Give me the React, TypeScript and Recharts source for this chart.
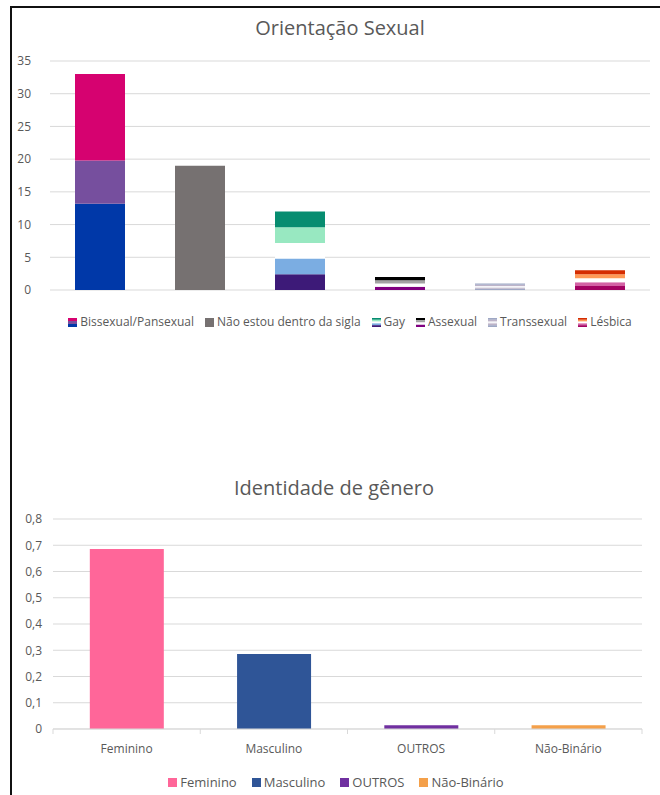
import React from 'react';
import { BarChart, Bar, XAxis, YAxis, CartesianGrid, Cell, Legend } from 'recharts';

// --- Orientação Sexual: stacked flag stripes, bottom stripe first ---
const orientCategories = ['Bissexual/Pansexual', 'Não estou dentro da sigla', 'Gay', 'Assexual', 'Transsexual', 'Lésbica'];
const bissexualStripes = [13.2, 6.6, 13.2];
const naoSiglaStripes = [19];
const gayStripes = [2.4, 2.4, 2.4, 2.4, 2.4];
const assexualStripes = [0.5, 0.5, 0.5, 0.5];
const transStripes = [0.2, 0.2, 0.2, 0.2, 0.2];
const lesbicaStripes = [0.6, 0.6, 0.6, 0.6, 0.6];
const orientTicks = [0, 5, 10, 15, 20, 25, 30, 35];

// --- Identidade de gênero ---
const genderCategories = ['Feminino', 'Masculino', 'OUTROS', 'Não-Binário'];
const genderValues = [0.686, 0.286, 0.014, 0.014];
const genderTicks = [0, 0.1, 0.2, 0.3, 0.4, 0.5, 0.6, 0.7, 0.8];

// colours (bottom stripe first)
const orientColors = [
  ['#0038a8', '#764f9e', '#d60270'],
  ['#767171'],
  ['#3d1a78', '#7bade2', '#ffffff', '#98e8c1', '#078d70'],
  ['#800080', '#ffffff', '#a3a3a3', '#000000'],
  ['#9ea7c4', '#bdb3c8', '#f4f4f8', '#bdb3c8', '#9ea7c4'],
  ['#a30262', '#d362a4', '#ffffff', '#ff9a56', '#d52d00'],
];
const genderColors = ['#ff6699', '#2f5597', '#7030a0', '#f4a04a'];

const FONT = '"Open Sans", "Noto Sans", sans-serif';
const TEXT = '#595959';
const GRID = '#d9d9d9';

const STRIPE_KEYS = ['s0', 's1', 's2', 's3', 's4'];
const orientStripes = [bissexualStripes, naoSiglaStripes, gayStripes, assexualStripes, transStripes, lesbicaStripes];

const orientData = orientCategories.map((name, i) => {
  const row: Record<string, string | number> = { name };
  orientStripes[i].forEach((v, j) => {
    row[STRIPE_KEYS[j]] = v;
  });
  return row;
});

const genderData = genderCategories.map((name, i) => ({ name, value: genderValues[i] }));

const G_LEFT = 53;
const G_RIGHT = 642;
const genderBand = (G_RIGHT - G_LEFT) / genderCategories.length;

const Marker = ({ colors, size }: { colors: string[]; size: number }) => {
  const top = [...colors].reverse();
  const h = size / top.length;
  return (
    <svg width={size} height={size} style={{ marginRight: 3 }}>
      {top.map((c, k) => (
        <rect key={k} x={0} y={k * h} width={size} height={h} fill={c} />
      ))}
    </svg>
  );
};

const OrientLegend = () => (
  <div
    style={{
      paddingTop: 22,
      paddingLeft: 40,
      height: 20,
      display: 'flex',
      justifyContent: 'center',
      alignItems: 'center',
      gap: 11,
      fontSize: 12,
      lineHeight: '20px',
      color: TEXT,
      fontFamily: FONT,
      whiteSpace: 'nowrap',
    }}
  >
    {orientCategories.map((name, i) => (
      <span key={name} style={{ display: 'flex', alignItems: 'center' }}>
        <Marker colors={orientColors[i]} size={9} />
        {name}
      </span>
    ))}
  </div>
);

const GenderLegend = () => (
  <div
    style={{
      paddingLeft: 12,
      height: 20,
      display: 'flex',
      justifyContent: 'center',
      alignItems: 'center',
      gap: 15,
      fontSize: 13,
      lineHeight: '20px',
      color: TEXT,
      fontFamily: FONT,
      whiteSpace: 'nowrap',
    }}
  >
    {genderCategories.map((name, i) => (
      <span key={name} style={{ display: 'flex', alignItems: 'center' }}>
        <Marker colors={[genderColors[i]]} size={9} />
        {name}
      </span>
    ))}
  </div>
);

const GenderTick = (props: any) => {
  const { x, y, payload, index } = props;
  const half = genderBand / 2;
  return (
    <g>
      <line x1={x - half} x2={x - half} y1={y} y2={y + 5} stroke={GRID} />
      {index === genderCategories.length - 1 && (
        <line x1={x + half} x2={x + half} y1={y} y2={y + 5} stroke={GRID} />
      )}
      <text x={x} y={y + 24} textAnchor="middle" fill={TEXT} fontSize={12} fontFamily={FONT}>
        {payload.value}
      </text>
    </g>
  );
};

const titleStyle: React.CSSProperties = {
  position: 'absolute',
  width: 240,
  textAlign: 'center',
  fontFamily: FONT,
  fontSize: 20,
  lineHeight: '24px',
  color: TEXT,
};

const App: React.FC = () => {
  return (
    <div style={{ position: 'absolute', left: 0, top: 0, width: 660, height: 795, background: '#fff', overflow: 'hidden' }}>
      <div
        style={{
          position: 'absolute',
          left: 10,
          top: 6,
          width: 660,
          height: 800,
          borderTop: '2px solid #111',
          borderLeft: '2px solid #111',
        }}
      />
      <div style={{ ...titleStyle, left: 220, top: 16 }}>Orientação Sexual</div>
      <div style={{ position: 'absolute', left: 0, top: 0 }}>
        <BarChart
          width={660}
          height={340}
          data={orientData}
          margin={{ top: 61, right: 10, left: 0, bottom: 8 }}
          barCategoryGap="25%"
        >
          <CartesianGrid vertical={false} stroke={GRID} />
          <XAxis dataKey="name" hide />
          <YAxis
            domain={[0, 35]}
            ticks={orientTicks}
            width={50}
            axisLine={false}
            tickLine={false}
            tickSize={0}
            tickMargin={19}
            tick={{ fill: TEXT, fontSize: 12, fontFamily: FONT }}
          />
          {STRIPE_KEYS.map((key, j) => (
            <Bar key={key} dataKey={key} stackId="o" isAnimationActive={false}>
              {orientData.map((_, i) => (
                <Cell key={i} fill={orientColors[i][j] ?? 'none'} />
              ))}
            </Bar>
          ))}
          <Legend verticalAlign="bottom" wrapperStyle={{ left: 0, width: 660 }} content={<OrientLegend />} />
        </BarChart>
      </div>

      <div style={{ ...titleStyle, left: 214, top: 476 }}>Identidade de gênero</div>
      <div style={{ position: 'absolute', left: 0, top: 490 }}>
        <BarChart
          width={660}
          height={305}
          data={genderData}
          margin={{ top: 29, right: 660 - G_RIGHT, left: 0, bottom: 3 }}
          barCategoryGap="25%"
        >
          <CartesianGrid vertical={false} stroke={GRID} />
          <XAxis
            dataKey="name"
            height={43}
            interval={0}
            tickSize={0}
            tickMargin={0}
            tickLine={false}
            axisLine={{ stroke: GRID }}
            tick={<GenderTick />}
          />
          <YAxis
            domain={[0, 0.8]}
            ticks={genderTicks}
            width={G_LEFT}
            axisLine={false}
            tickLine={false}
            tickSize={0}
            tickMargin={11}
            tickFormatter={(v: number) => (v === 0 ? '0' : v.toFixed(1).replace('.', ','))}
            tick={{ fill: TEXT, fontSize: 12, fontFamily: FONT }}
          />
          <Bar dataKey="value" isAnimationActive={false}>
            {genderData.map((_, i) => (
              <Cell key={i} fill={genderColors[i]} />
            ))}
          </Bar>
          <Legend verticalAlign="bottom" wrapperStyle={{ left: 0, width: 660 }} content={<GenderLegend />} />
        </BarChart>
      </div>
    </div>
  );
};

export default App;
